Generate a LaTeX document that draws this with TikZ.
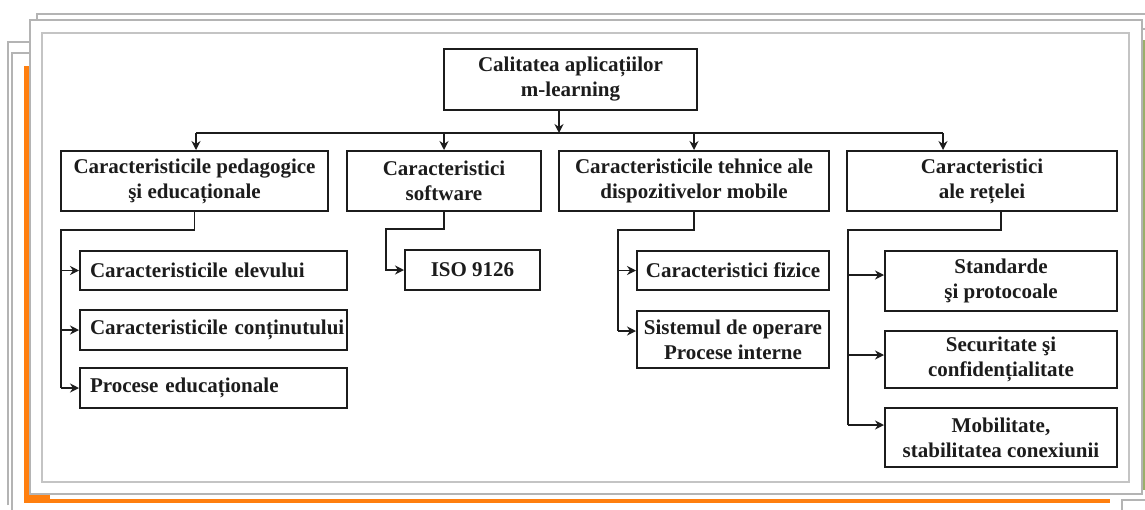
\documentclass[tikz,border=0pt]{standalone}
\usepackage{fontspec}
\setmainfont{Liberation Serif}
\usetikzlibrary{arrows.meta}
\definecolor{framegray}{HTML}{B4B4B4}
\definecolor{framelight}{HTML}{C4C4C4}
\definecolor{orng}{HTML}{FF7F0E}
\definecolor{grn}{HTML}{9AAF6A}
\definecolor{ink}{HTML}{1C1C1C}
\tikzset{
  box/.style={draw=ink, line width=2pt, fill=white, inner sep=0pt, align=center,
    font=\bfseries\fontsize{21}{25}\selectfont, text=ink},
  leftbox/.style={box, align=left, inner xsep=0pt, text width=267pt, minimum width=267pt},
  conn/.style={draw=ink, line width=1.6pt},
  arr/.style={conn, -{Stealth[length=9pt,width=9pt,inset=3pt]}},
  frameline/.style={draw=framegray, line width=2pt},
}
\begin{document}
\begin{tikzpicture}[x=1pt,y=-1pt]
\useasboundingbox (0,0) rectangle (1145,509);
\fill[white] (0,0) rectangle (1145,509);
% background frames
\draw[frameline] (37,22) -- (37,14) -- (1150,14);
\draw[frameline] (1140,29) -- (1150,29);
\fill[grn] (1143,40) rectangle (1146,490);
\draw[frameline] (8,505) -- (8,42) -- (32,42);
\draw[frameline] (12,512) -- (12,53) -- (32,53);
\draw[frameline] (1122,512) -- (1122,500) -- (1150,500);
\fill[orng] (24,66) rectangle (30,503);
\fill[orng] (24,494) rectangle (50,503);
\fill[orng] (50,499) rectangle (1110,503);
\draw[frameline, fill=white] (30,20) rectangle (1142,494);
\draw[draw=framelight, line width=2.6pt] (42,33) rectangle (1129,482);
% nodes
\node[box, minimum width=253pt, minimum height=61pt] (root) at (570.5,79.5) {Calitatea aplicațiilor\\m-learning};
\node[box, minimum width=267pt, minimum height=60pt] (b1) at (194.5,181) {Caracteristicile pedagogice\\şi educaționale};
\node[box, minimum width=194pt, minimum height=60pt] (b2) at (444,181) {Caracteristici\\software};
\node[box, minimum width=270pt, minimum height=60pt] (b3) at (694,181) {Caracteristicile tehnice ale\\dispozitivelor mobile};
\node[box, minimum width=270pt, minimum height=60pt] (b4) at (982,181) {Caracteristici\\ale rețelei};
\node[leftbox, minimum height=39pt] (c1a) at (213.5,270.5) {\hspace*{10pt}\mbox{Caracteristicile elevului}};
\node[leftbox, minimum height=40pt] (c1b) at (213.5,330) {\hspace*{10pt}\mbox{Caracteristicile conținutului}};
\node[leftbox, minimum height=40pt] (c1c) at (213.5,388) {\hspace*{10pt}\mbox{Procese educaționale}};
\node[box, minimum width=135pt, minimum height=40pt] (c2a) at (472.5,270) {ISO 9126};
\node[box, minimum width=192pt, minimum height=39pt] (c3a) at (733,270.5) {Caracteristici fizice};
\node[box, minimum width=192pt, minimum height=57pt] (c3b) at (733,339.5) {Sistemul de operare\\Procese interne};
\node[box, minimum width=232pt, minimum height=60pt] (c4a) at (1001,281) {Standarde\\şi protocoale};
\node[box, minimum width=232pt, minimum height=57pt] (c4b) at (1001,359.5) {Securitate şi\\confidențialitate};
\node[box, minimum width=232pt, minimum height=59pt] (c4c) at (1001,437.5) {Mobilitate,\\stabilitatea conexiunii};
% top bus
\coordinate (bus) at (559,133);
\coordinate (busL) at (196,133);
\coordinate (busR) at (943,133);
\draw[arr] (root.south -| bus) -- (bus);
\draw[conn] (busL) -- (busR);
\draw[arr] (busL) -- (busL |- b1.north);
\draw[arr] (b2.north |- bus) -- (b2.north);
\draw[arr] (b3.north |- bus) -- (b3.north);
\draw[arr] (busR) -- (busR |- b4.north);
% branch 1
\coordinate (t1) at (61,230);
\draw[conn] (b1.south) |- (t1) -- (t1 |- c1c.west);
\draw[arr] (t1 |- c1a.west) -- (c1a.west);
\draw[arr] (t1 |- c1b.west) -- (c1b.west);
\draw[arr] (t1 |- c1c.west) -- (c1c.west);
% branch 2
\coordinate (t2) at (386,229);
\draw[arr] (b2.south) |- (t2) |- (c2a.west);
% branch 3
\coordinate (t3) at (618,230);
\draw[conn] (b3.south) |- (t3) -- (t3 |- 0,331);
\draw[arr] (t3 |- c3a.west) -- (c3a.west);
\draw[arr] (t3 |- 0,331) -- (c3b.west |- 0,331);
% branch 4
\coordinate (t4) at (848,230);
\draw[conn] (c4a.north |- b4.south) |- (t4) -- (t4 |- 0,425);
\draw[arr] (t4 |- 0,275) -- (c4a.west |- 0,275);
\draw[arr] (t4 |- 0,355) -- (c4b.west |- 0,355);
\draw[arr] (t4 |- 0,425) -- (c4c.west |- 0,425);
\end{tikzpicture}
\end{document}
